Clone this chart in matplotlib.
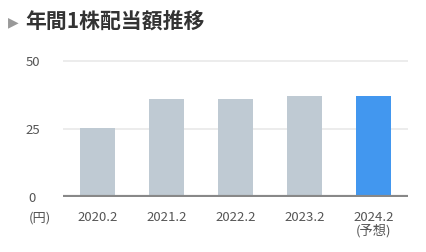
import matplotlib
matplotlib.use("Agg")
import matplotlib.pyplot as plt

plt.rcParams['font.family'] = ['Noto Sans CJK JP', 'DejaVu Sans']

years = ["2020.2", "2021.2", "2022.2", "2023.2", "2024.2\n(予想)"]
dividend = [25.5, 36, 36, 37.3, 37.3]
forecast = [False, False, False, False, True]
yticks = [0, 25, 50]

fig = plt.figure(figsize=(4.26, 2.52), dpi=100)
ax = fig.add_axes([63/426, 1-197/252, 345/426, (197-61)/252 + 0.02])

colors = ["#4297ef" if f else "#bfcad3" for f in forecast]
ax.bar(range(len(years)), dividend, width=0.5, color=colors, zorder=2)

ax.set_xlim(-0.5, len(years) - 0.5)
ax.set_ylim(0, 50 * (197 - 61 + 0.02 * 252) / (197 - 61))
ax.set_yticks(yticks)
ax.set_yticklabels([str(t) for t in yticks])
ax.set_xticks(range(len(years)))
ax.set_xticklabels(years, linespacing=1.0, va="top")
for t in yticks[1:]:
    ax.axhline(t, color="#e9e9e9", lw=1.2, zorder=1)
ax.axhline(0, color="#888888", lw=3, zorder=3)

for s in ax.spines.values():
    s.set_visible(False)
ax.tick_params(axis="both", length=0, labelsize=9.5, colors="#555555")
ax.tick_params(axis="y", pad=22)
ax.tick_params(axis="x", pad=10)
for lab in ax.get_yticklabels():
    lab.set_horizontalalignment("center")

fig.text(40/426, 1-218/252, "(円)", ha="center", va="center", fontsize=9.5, color="#555555")

fig.text(13/426, 1-22/252, "▶", ha="center", va="center", fontsize=10, color="#999999",
         family=['DejaVu Sans'])
fig.text(25/426, 1-21/252, "年間1株配当額推移", ha="left", va="center", fontsize=15,
         fontweight="bold", color="#333333")

fig.savefig("out.png", dpi=100)
